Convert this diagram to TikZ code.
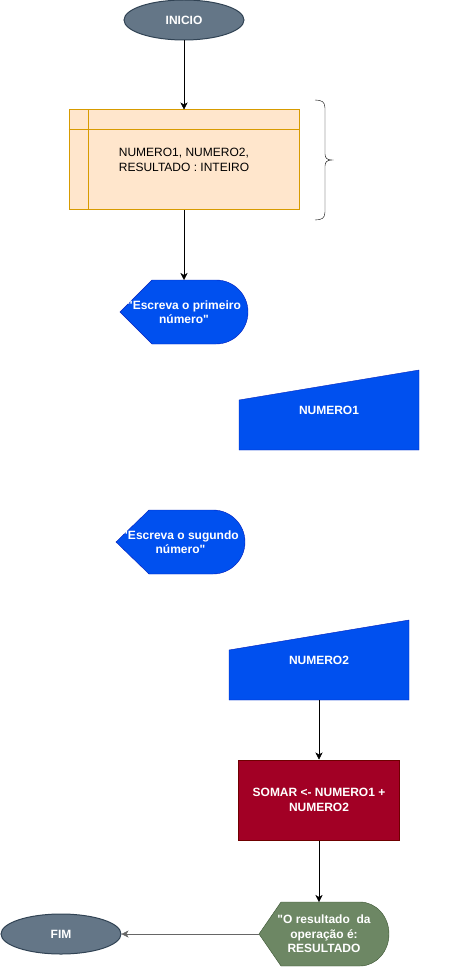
\documentclass[tikz,border=0pt]{standalone}
\usepackage{fontspec}
\setmainfont{Liberation Sans}
\usetikzlibrary{arrows.meta, shapes.geometric, backgrounds, positioning}

\definecolor{cinza}{HTML}{647687}
\definecolor{cinzaborda}{HTML}{314354}
\definecolor{laranja}{HTML}{FFE6CC}
\definecolor{laranjaborda}{HTML}{D79B00}
\definecolor{azul}{HTML}{0050EF}
\definecolor{azulborda}{HTML}{001DBC}
\definecolor{vermelho}{HTML}{A20025}
\definecolor{vermelhoborda}{HTML}{6F0000}
\definecolor{verde}{HTML}{6D8764}
\definecolor{verdeborda}{HTML}{3A5431}
\definecolor{linhacinza}{HTML}{666666}

\begin{document}
\begin{tikzpicture}[x=1pt, y=1pt, line width=1pt,
  font=\fontsize{12}{14.4}\selectfont,
  terminal/.style={ellipse, draw=cinzaborda, fill=cinza, text=white,
    font=\fontsize{12}{14.4}\selectfont\bfseries,
    minimum width=120pt, minimum height=40pt, inner sep=0pt},
  armazem/.style={rectangle, draw=laranjaborda, fill=laranja, align=left,
    minimum width=230pt, minimum height=100pt, inner sep=0pt},
  tela/.style={rectangle, text=white, align=center, inner sep=0pt, outer sep=0pt,
    font=\fontsize{12}{14.4}\selectfont\bfseries, minimum height=64pt},
  entrada/.style={rectangle, text=white, inner sep=0pt, outer sep=0pt,
    font=\fontsize{12}{14.4}\selectfont\bfseries,
    minimum width=180pt, minimum height=80pt},
  processo/.style={rectangle, draw=vermelhoborda, fill=vermelho, text=white, align=center,
    font=\fontsize{12}{14.4}\selectfont\bfseries,
    minimum width=161pt, minimum height=80pt, inner sep=0pt},
  seta/.style={-{Stealth[length=7pt, width=7pt, inset=2pt]}}
]
\useasboundingbox (0,0) rectangle (460,-968);

\path (184,-20) node[terminal] (inicio) {INICIO};
\path (184,-160) node[armazem] (vars) {NUMERO1, NUMERO2,\\RESULTADO : INTEIRO};
\path (184,-312) node[tela, minimum width=128pt] (tela1) {\textquotedbl Escreva o primeiro\\número\textquotedbl};
\path (329,-410) node[entrada] (num1) {NUMERO1};
\path (180.5,-542) node[tela, minimum width=129pt] (tela2) {\textquotedbl Escreva o sugundo\\número\textquotedbl};
\path (319,-660) node[entrada] (num2) {NUMERO2};
\path (319,-800) node[processo] (somar) {SOMAR <- NUMERO1 +\\NUMERO2};
\path (324,-934) node[tela, minimum width=130pt] (tela3) {\textquotedbl O resultado\ \ da\\operação é:\\RESULTADO};
\path (61,-934) node[terminal] (fim) {FIM};

% linhas internas do armazenamento
\draw[laranjaborda] ([xshift=20pt]vars.north west) -- ([xshift=20pt]vars.south west);
\draw[laranjaborda] ([yshift=-20pt]vars.north west) -- ([yshift=-20pt]vars.north east);

% formas desenhadas por baixo do texto
\begin{pgfonlayer}{background}
\draw[fill=azul, draw=azulborda] (tela1.west) -- ([xshift=32pt]tela1.north west) --
  ([xshift=-32pt]tela1.north east) arc[start angle=90, end angle=-90, x radius=32pt, y radius=32pt] --
  ([xshift=32pt]tela1.south west) -- cycle;
\draw[fill=azul, draw=azulborda] (tela2.west) -- ([xshift=33pt]tela2.north west) --
  ([xshift=-32pt]tela2.north east) arc[start angle=90, end angle=-90, x radius=32pt, y radius=32pt] --
  ([xshift=33pt]tela2.south west) -- cycle;
\draw[fill=verde, draw=verdeborda] (tela3.west) -- ([xshift=22pt]tela3.north west) --
  ([xshift=-29pt]tela3.north east) arc[start angle=90, end angle=-90, x radius=29pt, y radius=32pt] --
  ([xshift=22pt]tela3.south west) -- cycle;

\draw[fill=azul, draw=azulborda] (num1.south west) -- ([yshift=-30pt]num1.north west) --
  (num1.north east) -- (num1.south east) -- cycle;
\draw[fill=azul, draw=azulborda] (num2.south west) -- ([yshift=-30pt]num2.north west) --
  (num2.north east) -- (num2.south east) -- cycle;
\end{pgfonlayer}

% chave
\draw[black] (315,-100) .. controls (322,-100) and (325,-102) .. (325,-108) -- (325,-154)
  .. controls (325,-158) and (327,-160) .. (332,-160)
  .. controls (327,-160) and (325,-162) .. (325,-166) -- (325,-212)
  .. controls (325,-218) and (322,-220) .. (315,-220);

% conectores
\draw[seta] (inicio.south) -- (vars.north);
\draw[seta] (vars.south) -- (tela1.north);
\draw[seta] (num2.south) -- (somar.north);
\draw[seta] (somar.south) -- (somar.south |- tela3.north);
\draw[seta, linhacinza] (tela3.west) -- (fim.east);
\end{tikzpicture}
\end{document}
